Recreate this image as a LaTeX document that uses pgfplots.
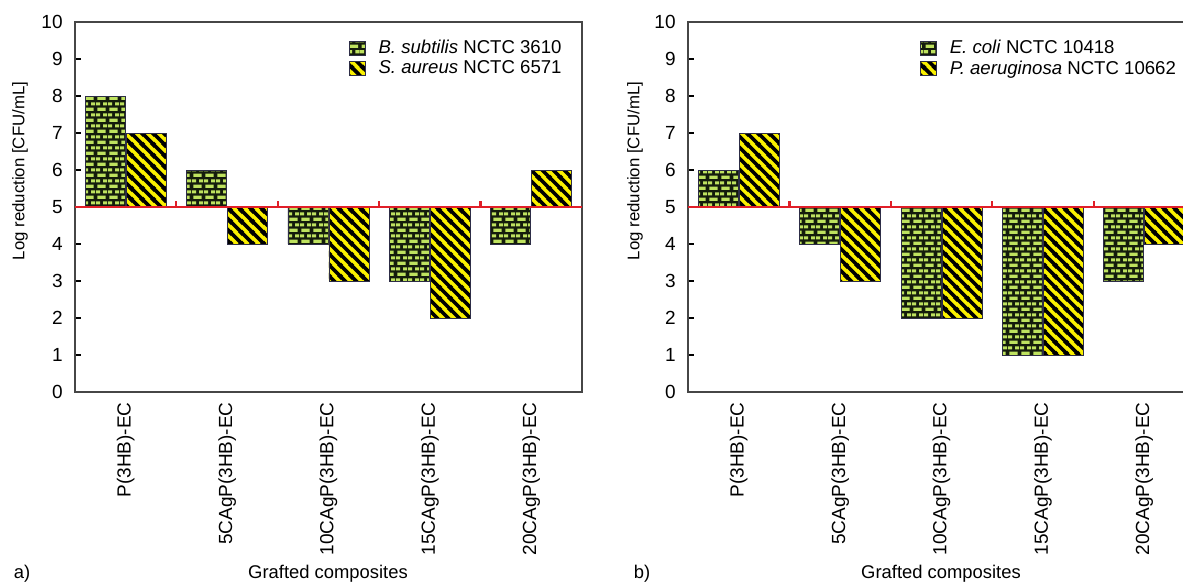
\documentclass[border=0pt]{standalone}
\usepackage{fontspec}
\setmainfont{Liberation Sans}
\usepackage{pgfplots}
\pgfplotsset{compat=1.18}
\usetikzlibrary{patterns}

\pgfdeclarepatternformonly{mybricks}{\pgfqpoint{0pt}{0pt}}{\pgfqpoint{6pt}{5.7pt}}{\pgfqpoint{6pt}{5.7pt}}{%
 \pgfpathrectangle{\pgfqpoint{0.8pt}{0.6pt}}{\pgfqpoint{4.4pt}{1.65pt}}%
 \pgfpathrectangle{\pgfqpoint{0pt}{3.45pt}}{\pgfqpoint{2.2pt}{1.65pt}}%
 \pgfpathrectangle{\pgfqpoint{3.8pt}{3.45pt}}{\pgfqpoint{2.2pt}{1.65pt}}%
 \pgfusepath{fill}}

\pgfdeclarepatternformonly{mystripes}{\pgfqpoint{0pt}{0pt}}{\pgfqpoint{5.5pt}{5.5pt}}{\pgfqpoint{5.5pt}{5.5pt}}{%
 \pgfsetlinewidth{1.9pt}%
 \pgfpathmoveto{\pgfqpoint{-0.5pt}{6pt}}\pgfpathlineto{\pgfqpoint{6pt}{-0.5pt}}%
 \pgfpathmoveto{\pgfqpoint{-1.5pt}{1.5pt}}\pgfpathlineto{\pgfqpoint{1.5pt}{-1.5pt}}%
 \pgfpathmoveto{\pgfqpoint{4pt}{7pt}}\pgfpathlineto{\pgfqpoint{7pt}{4pt}}%
 \pgfusepath{stroke}}

\definecolor{brickbg}{RGB}{20,28,12}
\definecolor{brickfg}{RGB}{190,226,95}
\definecolor{stripebg}{RGB}{250,240,0}
\definecolor{barline}{RGB}{45,45,70}
\definecolor{axisgray}{RGB}{70,70,70}
\definecolor{refred}{RGB}{225,30,40}

\pgfplotsset{
 greenbar/.style={fill=brickbg, draw=barline, line width=0.4pt, postaction={pattern=mybricks, pattern color=brickfg}},
 yellowbar/.style={fill=stripebg, draw=barline, line width=0.4pt, postaction={pattern=mystripes, pattern color=black}},
 panel/.style={
  scale only axis, width=253.5pt, height=185pt,
  xmin=-0.5, xmax=4.5, ymin=-5, ymax=5,
  y filter/.expression={y-5},
  ytick={-5,...,5}, yticklabels={0,1,2,3,4,5,6,7,8,9,10},
  xtick={0,...,4},
  xticklabels={P(3HB)-EC,5CAgP(3HB)-EC,10CAgP(3HB)-EC,15CAgP(3HB)-EC,20CAgP(3HB)-EC},
  major x tick style={draw=none},
  ytick pos=left, tick align=inside, major tick length=3pt,
  y tick style={black, line width=0.8pt},
  axis line style={axisgray, line width=0.8pt},
  /pgf/number format/assume math mode=true,
  tick label style={font=\fontsize{9.5}{11}\selectfont},
  yticklabel style={anchor=east, inner sep=0pt, xshift=-6pt},
  xticklabel style={yshift=-5pt, rotate=90, anchor=east, inner sep=0pt},
  legend image code/.code={\draw[##1] (0pt,-3.5pt) rectangle (8pt,3.5pt);},
  legend cell align=left,
  legend style={draw=none, fill=none, anchor=north west, inner sep=0pt, outer sep=0pt,
   row sep=0pt, font=\fontsize{9.3}{11}\selectfont, nodes={inner ysep=0.9pt, inner xsep=6.5pt}},
 },
}

\begin{document}
\begin{tikzpicture}
% panel a
\begin{axis}[panel, at={(37.5pt,96pt)}, anchor=south west,
  legend style={at={(axis description cs:0.540,0.955)}}]
\addplot[ybar, bar width=20pt, bar shift=-10.25pt, greenbar] coordinates {(0,8) (1,6) (2,4) (3,3) (4,4)};
\addplot[ybar, bar width=20pt, bar shift=10.25pt, yellowbar] coordinates {(0,7) (1,4) (2,3) (3,2) (4,6)};
\addplot[refred, line width=1.1pt, sharp plot, forget plot] coordinates {(-0.5,5) (4.5,5)};
\addplot[refred, line width=1.1pt, ycomb, forget plot] coordinates {(0.5,5.17) (1.5,5.17) (2.5,5.17) (3.5,5.17)};
\legend{\textit{B. subtilis} NCTC 3610, \textit{S. aureus} NCTC 6571}
\end{axis}
% panel b
\begin{axis}[panel, at={(344pt,96pt)}, anchor=south west,
  legend style={at={(axis description cs:0.4576,0.955)}}]
\addplot[ybar, bar width=20pt, bar shift=-10.25pt, greenbar] coordinates {(0,6) (1,4) (2,2) (3,1) (4,3)};
\addplot[ybar, bar width=20pt, bar shift=10.25pt, yellowbar] coordinates {(0,7) (1,3) (2,2) (3,1) (4,4)};
\addplot[refred, line width=1.1pt, sharp plot, forget plot] coordinates {(-0.5,5) (4.5,5)};
\addplot[refred, line width=1.1pt, ycomb, forget plot] coordinates {(0.5,5.17) (1.5,5.17) (2.5,5.17) (3.5,5.17)};
\legend{\textit{E. coli} NCTC 10418, \textit{P. aeruginosa} NCTC 10662}
\end{axis}
\node[rotate=90, font=\fontsize{8.4}{10}\selectfont] at (10pt,206.5pt) {Log reduction [CFU/mL]};
\node[rotate=90, font=\fontsize{8.4}{10}\selectfont] at (317.5pt,206.5pt) {Log reduction [CFU/mL]};
\node[font=\fontsize{9.2}{11}\selectfont] at (164pt,5pt) {Grafted composites};
\node[font=\fontsize{9.2}{11}\selectfont] at (470.5pt,5pt) {Grafted composites};
\node[font=\fontsize{9.2}{11}\selectfont] at (11pt,5pt) {a)};
\node[font=\fontsize{9.2}{11}\selectfont] at (321pt,5pt) {b)};
\pgfresetboundingbox
\useasboundingbox (0,0) rectangle (591.5pt,292pt);
\end{tikzpicture}
\end{document}
